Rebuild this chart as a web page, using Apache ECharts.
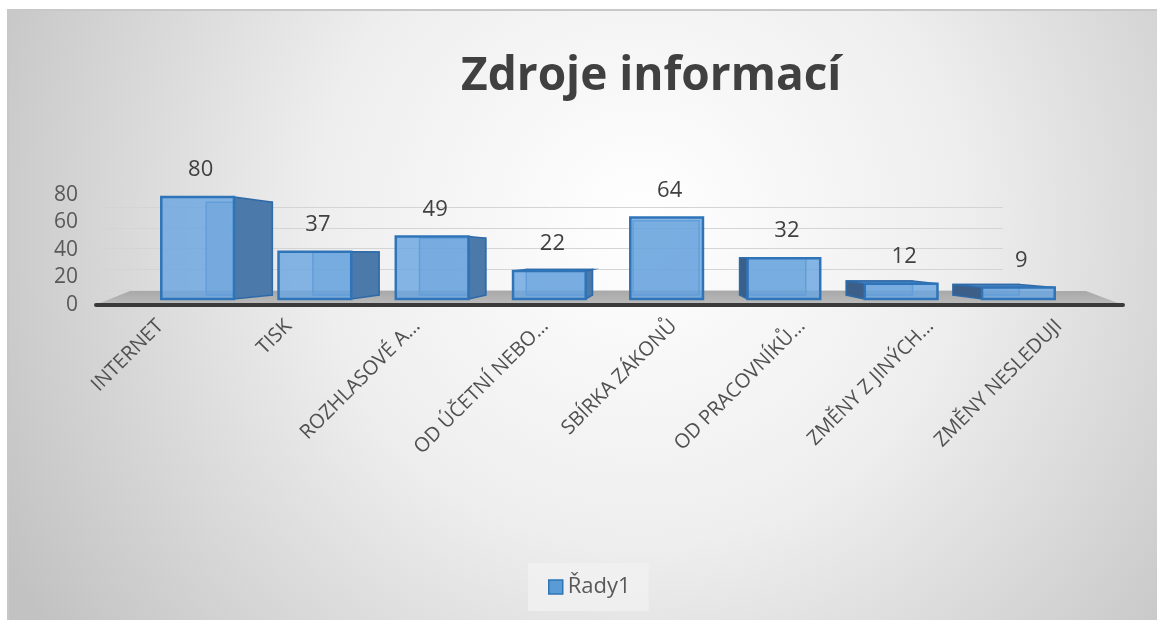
<!DOCTYPE html>
<html>
<head>
<meta charset="utf-8">
<script src="https://cdn.jsdelivr.net/npm/echarts@6/dist/echarts.min.js"></script>
<style>
  html, body { margin: 0; padding: 0; background: #fff; }
  #chart { width: 1157px; height: 620px; }
</style>
</head>
<body>
<div id="chart"></div>
<script>
const categories = ['INTERNET', 'TISK', 'ROZHLASOVÉ A…', 'OD ÚČETNÍ NEBO…', 'SBÍRKA ZÁKONŮ', 'OD PRACOVNÍKŮ…', 'ZMĚNY Z JINÝCH…', 'ZMĚNY NESLEDUJI']
const values = [80, 37, 49, 22, 64, 32, 12, 9]
const seriesName = 'Řady1'

// fake perspective: back edges pulled toward this point
const VP = [660, 255]
const DEPTH = 0.09
const FONT = '"Open Sans", Lato, sans-serif'

function back(p) {
    return [p[0] + (VP[0] - p[0]) * DEPTH, p[1] + (VP[1] - p[1]) * DEPTH]
}

function renderBox(params, api) {
    const top = api.coord([api.value(0), api.value(1)])
    const base = api.coord([api.value(0), 0])
    const w = api.size([1, 0])[0] * 0.62
    const x1 = top[0] - w / 2, x2 = top[0] + w / 2
    const y1 = top[1], y2 = base[1]
    const tl = [x1, y1], tr = [x2, y1], bl = [x1, y2], br = [x2, y2]
    const children = []
    // back outline, seen through the front face
    children.push({
        type: 'polygon',
        shape: {points: [back(tl), back(tr), back(br), back(bl)]},
        style: {fill: 'rgba(70,120,180,0.35)', stroke: '#3d78b8', lineWidth: 1.5}
    })
    if (x2 < VP[0]) {
        children.push({
            type: 'polygon',
            shape: {points: [tr, back(tr), back(br), br]},
            style: {fill: '#4b79aa', stroke: '#2f6aa8', lineWidth: 1.5}
        })
    }
    if (x1 > VP[0]) {
        children.push({
            type: 'polygon',
            shape: {points: [tl, back(tl), back(bl), bl]},
            style: {fill: '#3b5f88', stroke: '#2f6aa8', lineWidth: 1.5}
        })
    }
    if (y1 > VP[1]) {
        children.push({
            type: 'polygon',
            shape: {points: [tl, tr, back(tr), back(tl)]},
            style: {fill: '#4f87c4', stroke: '#2f6aa8', lineWidth: 1.5}
        })
    }
    children.push({
        type: 'rect',
        shape: {x: x1, y: y1, width: w, height: y2 - y1},
        style: {fill: 'rgba(106,166,224,0.82)', stroke: '#2f74b8', lineWidth: 2.5}
    })
    children.push({
        type: 'text',
        style: {
            text: String(api.value(1)),
            x: top[0] + 3, y: y1 - 27,
            align: 'center', verticalAlign: 'middle',
            fontFamily: FONT, fontSize: 22, fill: '#404040'
        }
    })
    return {type: 'group', children: children}
}

const chart = echarts.init(document.getElementById('chart'))
const option = {
    backgroundColor: '#ffffff',
    animation: false,
    title: {
        text: 'Zdroje informací',
        left: 456,
        top: 49,
        textStyle: {fontFamily: FONT, fontSize: 46, fontWeight: 'bold', color: '#404040'}
    },
    graphic: [
        {
            type: 'rect', z: -10,
            shape: {x: 8, y: 10, width: 1160, height: 620},
            style: {
                fill: {
                    type: 'radial', x: 640, y: 220, r: 720, global: true,
                    colorStops: [
                        {offset: 0, color: '#ffffff'},
                        {offset: 0.45, color: '#eeeeee'},
                        {offset: 1, color: '#c2c2c2'}
                    ]
                },
                stroke: '#c8c8c8', lineWidth: 2
            }
        },
        {
            type: 'polygon', z: 1,
            shape: {points: [[95, 305], [1123, 305], [1086, 291], [130, 291]]},
            style: {
                fill: {
                    type: 'linear', x: 0, y: 0, x2: 0, y2: 1,
                    colorStops: [{offset: 0, color: '#a8a8a8'}, {offset: 1, color: '#bcbcbc'}]
                }
            }
        }
    ],
    legend: {
        left: 528,
        top: 563,
        data: [{name: seriesName, icon: 'rect', itemStyle: {color: '#5b9bd5', borderColor: '#2e75b6', borderWidth: 1.5}}],
        itemWidth: 14,
        itemHeight: 14,
        itemGap: 6,
        padding: [13, 18, 13, 20],
        backgroundColor: 'rgba(242,242,242,0.75)',
        textStyle: {fontFamily: FONT, fontSize: 22, color: '#595959'}
    },
    grid: [
        {left: 139, right: 80, top: 197, bottom: 321},
        {left: 96, right: 34, top: 195, bottom: 315},
        {left: 100, right: 154, top: 207, bottom: 330}
    ],
    xAxis: [
        {gridIndex: 0, type: 'category', data: categories, show: false},
        {
            gridIndex: 1, type: 'category', data: categories, z: 3,
            axisLine: {lineStyle: {color: '#3a3a3a', width: 4}},
            axisTick: {show: false},
            axisLabel: {rotate: 45, interval: 0, margin: 18, fontFamily: FONT, fontSize: 20, color: '#505050'}
        },
        {gridIndex: 2, type: 'category', data: categories, show: false}
    ],
    yAxis: [
        {gridIndex: 0, type: 'value', min: 0, max: 80, show: false},
        {
            gridIndex: 1, type: 'value', min: 0, max: 80, interval: 20, z: 1,
            axisLine: {show: false}, axisTick: {show: false}, splitLine: {show: false},
            axisLabel: {margin: 18, fontFamily: FONT, fontSize: 21, color: '#595959'}
        },
        {
            gridIndex: 2, type: 'value', min: 0, max: 80, interval: 20, z: 0,
            axisLine: {show: false}, axisTick: {show: false}, axisLabel: {show: false},
            splitLine: {lineStyle: {color: '#d4d4d4', width: 1}}
        }
    ],
    series: [
        {
            name: seriesName,
            type: 'custom',
            xAxisIndex: 0,
            yAxisIndex: 0,
            z: 4,
            renderItem: renderBox,
            encode: {x: 0, y: 1},
            data: values.map((v, i) => [i, v])
        }
    ]
}
chart.setOption(option)
</script>
</body>
</html>
